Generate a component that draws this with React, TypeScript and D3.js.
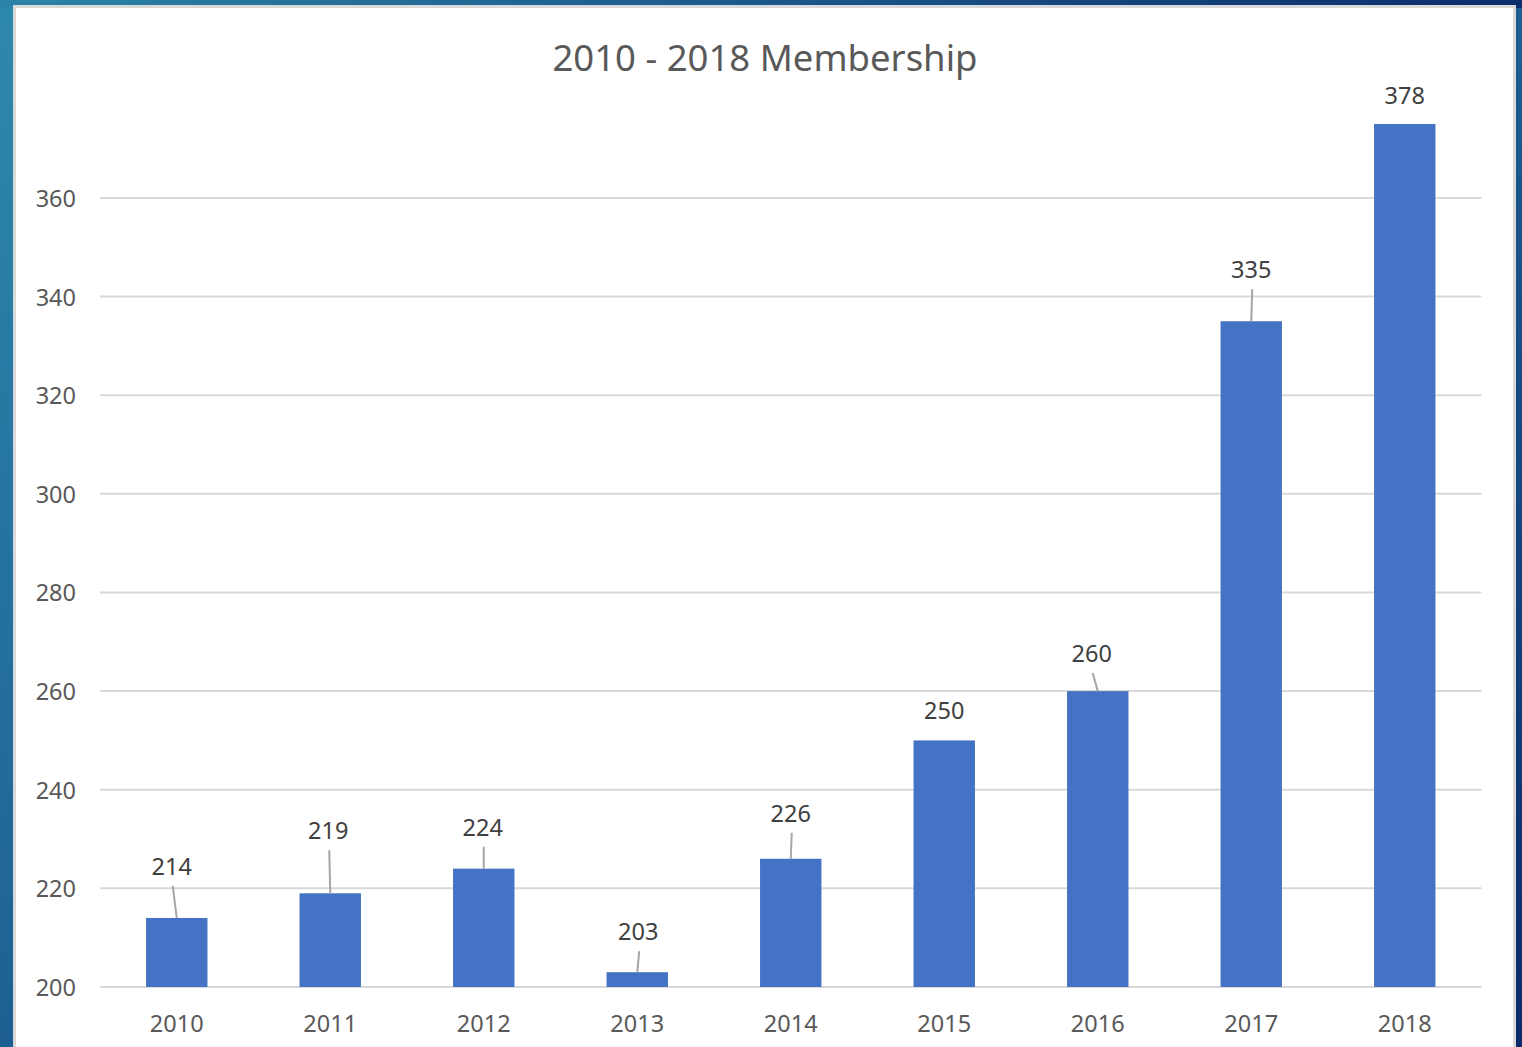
import React from "react";
import * as d3 from "d3";

const years = ["2010", "2011", "2012", "2013", "2014", "2015", "2016", "2017", "2018"];
const members = [214, 219, 224, 203, 226, 250, 260, 335, 378];
const yTicks = [200, 220, 240, 260, 280, 300, 320, 340, 360];
// label offsets (dx, dy in px) as placed in the original (leader lines where moved)
const labelDx = [-5, -2, -1, 1, 0, 0, -6, 0, 0];
const labelLift = [52, 63, 42, 41, 46, 30, 38, 52, 29];
const hasLeader = [true, true, true, true, true, false, true, true, false];

const W = 1522;
const H = 1047;
const margin = { left: 100, right: 1481.5, top: 124, bottom: 987 };

export default function App() {
  const x = d3.scaleBand<string>().domain(years).range([margin.left, margin.right]).paddingInner(0.6).paddingOuter(0.3);
  const y = d3.scaleLinear().domain([200, 375]).range([margin.bottom, margin.top]);
  const font = "'Noto Sans', 'Open Sans', sans-serif";
  const textColor = "#595959";

  return (
    <div style={{ position: "absolute", left: 0, top: 0 }}>
      <svg width={W} height={H} style={{ display: "block" }}>
        <defs>
          <linearGradient id="bg" x1="0" y1="0" x2="1" y2="1">
            <stop offset="0" stopColor="#2d89ac" />
            <stop offset="0.45" stopColor="#1f6496" />
            <stop offset="1" stopColor="#0b2a68" />
          </linearGradient>
          <linearGradient id="bgTop" x1="0" y1="0" x2="1" y2="0">
            <stop offset="0" stopColor="#2b83a8" />
            <stop offset="1" stopColor="#0c2d6c" />
          </linearGradient>
          <clipPath id="plotClip">
            <rect x={margin.left} y={margin.top} width={margin.right - margin.left} height={margin.bottom - margin.top + 1} />
          </clipPath>
        </defs>
        <rect x={0} y={0} width={W} height={H} fill="url(#bg)" />
        <rect x={0} y={0} width={W} height={8} fill="url(#bgTop)" />
        <rect x={14.5} y={6.5} width={1500} height={H} fill="#ffffff" stroke="#d9d9d9" strokeWidth={3} />

        <text x={765} y={57} textAnchor="middle" dominantBaseline="central" fontFamily={font} fontSize={36.5} fill={textColor}>
          2010 - 2018 Membership
        </text>

        {yTicks.map((t) => (
          <g key={t}>
            <line x1={margin.left} x2={margin.right} y1={y(t)} y2={y(t)} stroke="#d9d9d9" strokeWidth={2} />
            <text x={76} y={y(t)} textAnchor="end" dominantBaseline="central" fontFamily={font} fontSize={23.5} fill={textColor}>
              {t}
            </text>
          </g>
        ))}

        <g clipPath="url(#plotClip)">
          {years.map((yr, i) => (
            <rect key={yr} x={x(yr)} y={y(members[i])} width={x.bandwidth()} height={y(200) - y(members[i])} fill="#4472c4" />
          ))}
        </g>

        {years.map((yr, i) => {
          const cx = (x(yr) as number) + x.bandwidth() / 2;
          const top = Math.max(y(members[i]), margin.top);
          const ly = top - labelLift[i];
          const lx = cx + labelDx[i];
          return (
            <g key={yr}>
              {hasLeader[i] && (
                <line x1={lx + 1} y1={ly + 20} x2={cx} y2={top} stroke="#a6a6a6" strokeWidth={2} />
              )}
              <text x={lx} y={ly} textAnchor="middle" dominantBaseline="central" fontFamily={font} fontSize={23.5} fill="#404040">
                {members[i]}
              </text>
              <text x={cx} y={1023} textAnchor="middle" dominantBaseline="central" fontFamily={font} fontSize={23.5} fill={textColor}>
                {yr}
              </text>
            </g>
          );
        })}
      </svg>
    </div>
  );
}
